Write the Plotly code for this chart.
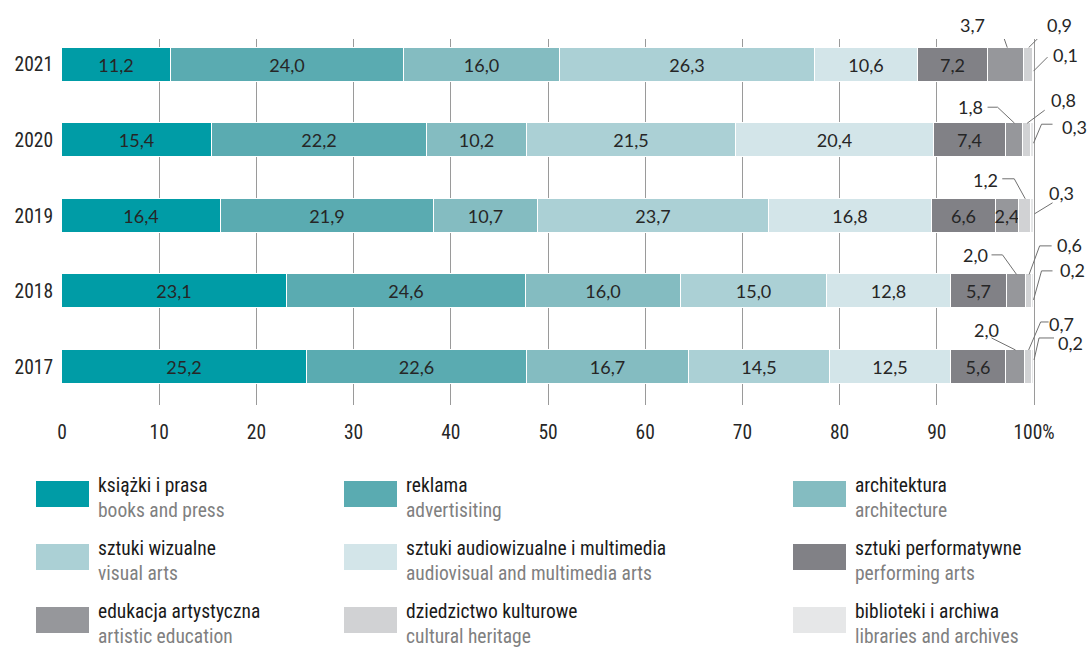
import plotly.graph_objects as go

# ---------------- data ----------------
years = ["2017", "2018", "2019", "2020", "2021"]

books = [25.2, 23.1, 16.4, 15.4, 11.2]
advertising = [22.6, 24.6, 21.9, 22.2, 24.0]
architecture = [16.7, 16.0, 10.7, 10.2, 16.0]
visual_arts = [14.5, 15.0, 23.7, 21.5, 26.3]
audiovisual = [12.5, 12.8, 16.8, 20.4, 10.6]
performing = [5.6, 5.7, 6.6, 7.4, 7.2]
education = [2.0, 2.0, 2.4, 1.8, 3.7]
heritage = [0.7, 0.6, 1.2, 0.8, 0.9]
libraries = [0.2, 0.2, 0.3, 0.3, 0.1]

names_pl = ["książki i prasa", "reklama", "architektura", "sztuki wizualne",
            "sztuki audiowizualne i multimedia", "sztuki performatywne",
            "edukacja artystyczna", "dziedzictwo kulturowe", "biblioteki i archiwa"]
names_en = ["books and press", "advertisiting", "architecture", "visual arts",
            "audiovisual and multimedia arts", "performing arts",
            "artistic education", "cultural heritage", "libraries and archives"]

x_tickvals = [0, 10, 20, 30, 40, 50, 60, 70, 80, 90, 100]
x_ticktext = ["0", "10", "20", "30", "40", "50", "60", "70", "80", "90", "100%"]

# ---------------- style ----------------
colors = ["#009CA6", "#5AABB1", "#84BCC1", "#ABD0D5", "#D3E5E9",
          "#818186", "#96979B", "#D1D2D4", "#E6E7E8"]
series = [books, advertising, architecture, visual_arts, audiovisual,
          performing, education, heritage, libraries]

COND = "Roboto Condensed, Roboto, sans-serif"
NUMF = "Lato, Carlito, Open Sans, sans-serif"
TXT = "#262626"
LEAD = "#707070"

W, H = 1090, 650
ML, MR, MT, MB = 62, 2, 39, 245
PW, PH = W - ML - MR, H - MT - MB
FULL_PX = 972          # pixel width of 0..100 %
X_RANGE = [0, 100 * PW / FULL_PX]   # extra room on the right for callouts
BAR_W = 0.45

# callouts: (year index, series index, anchor 'top'/'mid', text dx, dy, leader path pts) in screen px
callouts = [
    (4, 6, "top", -34, -23, [(-19, -23), (-7, -23), (1, 0)]),
    (4, 7, "top", 31, -23, [(17, -17), (0, 0)]),
    (4, 8, "mid", 32, -10, [(14, -7.5), (0, 6.5)]),
    (3, 6, "top", -44, -16, [(-27, -16), (-17, -16), (0, 0)]),
    (3, 7, "top", 36, -23, [(17.5, -13), (0, 0)]),
    (3, 8, "mid", 42, -13, [(20, -16), (9, -16), (1, 3)]),
    (2, 7, "top", -40, -19, [(-23, -20), (-11, -20), (0, 0)]),
    (2, 8, "mid", 29, -23, [(20, -13), (2, -2)]),
    (1, 6, "top", -41, -19.5, [(-25, -19.5), (-14, -19.5), (0, 0)]),
    (1, 7, "top", 40.5, -29.5, [(22.5, -28.5), (10.5, -28.5), (0, 0)]),
    (1, 8, "mid", 39.5, -21.5, [(19.5, -20.5), (8.5, -20.5), (0.5, 8.5)]),
    (0, 6, "top", -29, -20, [(-24, -12), (0, 0)]),
    (0, 7, "top", 33, -26, [(20, -28), (12, -28), (0, 0)]),
    (0, 8, "mid", 37, -24, [(21, -29), (6, -29), (1, -7)]),
]
outside = {(c[0], c[1]) for c in callouts}


def fmt(v):
    return f"{v:.1f}".replace(".", ",")


ypos = list(range(len(years)))

fig = go.Figure()
for si, vals in enumerate(series):
    texts = ["" if (yi, si) in outside else fmt(v) for yi, v in enumerate(vals)]
    fig.add_trace(go.Bar(
        x=vals, y=ypos, orientation="h", width=BAR_W,
        marker=dict(color=colors[si], line=dict(color="white", width=1)),
        text=texts, textposition="inside", insidetextanchor="middle",
        textangle=0, insidetextfont=dict(family=NUMF, size=18, color=TXT),
        name=names_pl[si], showlegend=False, hoverinfo="skip",
    ))

shapes = []
annotations = []

# callout labels with leader lines
for yi, si, kind, tdx, tdy, pts in callouts:
    start = sum(series[k][yi] for k in range(si))
    ax = start + series[si][yi] / 2
    ay = yi + (BAR_W / 2 if kind == "top" else 0)
    path = "M " + " L ".join(f"{px},{-py}" for px, py in pts)
    shapes.append(dict(type="path", xref="x", yref="y", xsizemode="pixel",
                       ysizemode="pixel", xanchor=ax, yanchor=ay, path=path,
                       line=dict(color=LEAD, width=1)))
    annotations.append(dict(x=ax, y=ay, xref="x", yref="y", text=fmt(series[si][yi]),
                            showarrow=False, xshift=tdx, yshift=-tdy,
                            font=dict(family=NUMF, size=18, color=TXT),
                            xanchor="center", yanchor="middle"))


def px_x(X):
    return (X - ML) / PW


def px_y(Y):
    return (MT + PH - Y) / PH


# legend
col_sw = [36, 344, 793]
row_top = [481, 544, 607]
SW_W, SW_H = 53, 26
for i in range(len(names_pl)):
    r, c = divmod(i, 3)
    x0, y0 = col_sw[c], row_top[r]
    shapes.append(dict(type="rect", xref="paper", yref="paper",
                       x0=px_x(x0), x1=px_x(x0 + SW_W), y0=px_y(y0 + SW_H), y1=px_y(y0),
                       fillcolor=colors[i], line=dict(width=0)))
    annotations.append(dict(
        xref="paper", yref="paper", x=px_x(x0 + SW_W + 7), y=px_y(y0 - 9),
        xanchor="left", yanchor="top", align="left", showarrow=False,
        text=f"{names_pl[i]}<br><span style='color:#808080'>{names_en[i]}</span>",
        font=dict(family=COND, size=19.5, color="#1a1a1a")))

fig.update_layout(
    width=W, height=H,
    margin=dict(l=ML, r=MR, t=MT, b=MB, autoexpand=False),
    barmode="stack", bargap=0,
    paper_bgcolor="white", plot_bgcolor="white",
    shapes=shapes, annotations=annotations,
    uniformtext=dict(minsize=18, mode="show"),
    xaxis=dict(range=X_RANGE, tickvals=x_tickvals, ticktext=x_ticktext,
               showgrid=True, gridcolor="#9a9a9a", gridwidth=1, zeroline=False,
               showline=False, ticks="outside", ticklen=10, tickcolor="rgba(0,0,0,0)",
               tickfont=dict(family=COND, size=19.5, color=TXT), fixedrange=True),
    yaxis=dict(range=[-0.503, 4.339], tickvals=ypos, ticktext=years,
               showgrid=False, zeroline=False, showline=False,
               ticks="outside", ticklen=4, tickcolor="rgba(0,0,0,0)",
               tickfont=dict(family=COND, size=19.5, color=TXT), fixedrange=True),
)

fig.write_html("out.html", config={"displayModeBar": False},
               post_script="document.body.style.margin='0';")
